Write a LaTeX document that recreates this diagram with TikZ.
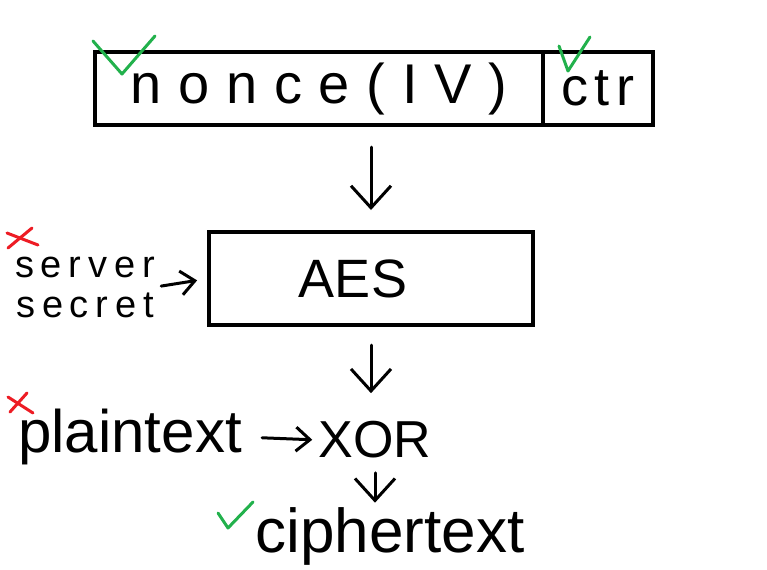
\documentclass[tikz,border=0pt]{standalone}
\usepackage{fontspec}
\setmainfont{Liberation Sans}
\newfontfamily\spacedfont[LetterSpace=30]{Liberation Sans}
\newfontfamily\ctrfont[LetterSpace=12]{Liberation Sans}
\newfontfamily\keyfont[LetterSpace=18]{Liberation Sans}
\definecolor{tickgreen}{RGB}{34,177,76}
\definecolor{crossred}{RGB}{237,28,36}
\usetikzlibrary{arrows.meta, positioning}

\begin{document}
\begin{tikzpicture}[
  x=0.5pt, y=-0.5pt,
  box/.style = {draw, line width=2pt, outer sep=0pt, inner sep=0pt},
  word/.style = {inner sep=0pt, align=center},
  flow/.style = {line width=1.5pt, line cap=round, -{Straight Barb[length=11pt, width=20pt, line width=1.5pt]}},
  sideflow/.style = {line width=1.5pt, line cap=round, -{Straight Barb[length=7pt, width=12pt, line width=1.5pt]}},
  okmark/.style = {draw=tickgreen, line width=1.5pt, line cap=round, line join=round},
  badmark/.style = {draw=crossred, line width=1.5pt, line cap=round}
]
  \useasboundingbox (0,0) rectangle (767,569);

  % counter block
  \node[box, minimum width=224pt, minimum height=36.5pt] (nonce) at (319,88.5)
    {\fontsize{28}{30}\spacedfont\raisebox{-3pt}{nonce(IV)}};
  \node[box, minimum width=55pt, minimum height=36.5pt, right=0pt of nonce] (ctr)
    {\fontsize{27}{30}\ctrfont\raisebox{-3pt}{ctr}};

  % block cipher
  \node[box, minimum width=162pt, minimum height=46.5pt] (aes) at (371,278.5)
    {\fontsize{27}{28}\selectfont\hspace*{-18pt}\raisebox{-3pt}{AES}};

  % key, plaintext and output
  \node[word, font=\fontsize{19}{20}\keyfont] (secret) at (85,287) {server\\secret};
  \node[word, font=\fontsize{30}{32}\selectfont] (plain) at (130,437) {plaintext};
  \node[word, font=\fontsize{26}{28}\selectfont] (xor) at (375,440) {XOR};
  \node[word, font=\fontsize{31}{34}\selectfont] (cipher) at (390,536) {ciphertext};

  % arrows
  \draw[flow, shorten <=11pt, shorten >=11pt] (aes.north |- nonce.south) -- (aes.north);
  \draw[sideflow, shorten <=3pt, shorten >=6pt] (secret.east) -- (aes.west);
  \draw[flow, shorten <=10pt, shorten >=14pt] (aes.south) -- (aes.south |- xor.north);
  \draw[sideflow, shorten <=10pt, shorten >=3pt] (plain.east) -- (xor.west);
  \draw[flow, shorten <=7pt, shorten >=2pt] (xor.south) -- (xor.south |- cipher.north);

  % ticks and crosses
  \draw[okmark] (93,41) -- (122,74) -- (155,36);
  \draw[okmark] (559,46) -- (568,71) -- (590,37);
  \draw[okmark] (218,513) -- (228,528) -- (253,502);
  \draw[badmark] (7,233) -- (38,245);
  \draw[badmark] (32,228) -- (8,248);
  \draw[badmark] (8,397) -- (33,413);
  \draw[badmark] (27,393) -- (10,412);
\end{tikzpicture}
\end{document}
